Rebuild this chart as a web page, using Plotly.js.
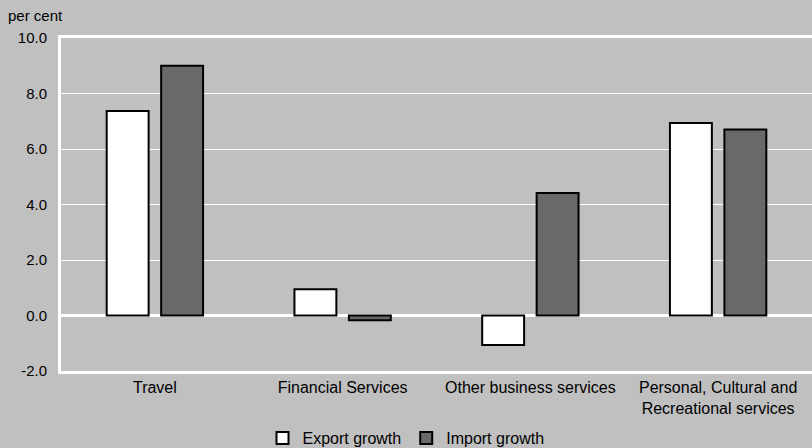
<!DOCTYPE html>
<html><head><meta charset="utf-8">
<script src="https://cdn.plot.ly/plotly-3.0.1.min.js"></script>
<style>html,body{margin:0;padding:0;background:#c0c0c0;}</style>
</head><body>
<div id="chart" style="width:812px;height:448px;"></div>
<script>
const categories = ["Travel", "Financial Services", "Other business services", "Personal, Cultural and<br>Recreational services"];
const exportGrowth = [7.37, 0.95, -1.06, 6.94];
const importGrowth = [9.0, -0.17, 4.41, 6.70];
const seriesNames = ["Export growth", "Import growth"];
const yTicks = [-2, 0, 2, 4, 6, 8, 10];
const yTickText = yTicks.map(v => v.toFixed(1));

const font = {family: "Arial, Liberation Sans, sans-serif", size: 15, color: "#000"};
const bigFont = {family: "Arial, Liberation Sans, sans-serif", size: 16, color: "#000"};
const traces = [
  {type: "bar", name: seriesNames[0], x: categories, y: exportGrowth,
   marker: {color: "#ffffff", line: {color: "#000", width: 2}}},
  {type: "bar", name: seriesNames[1], x: categories, y: importGrowth,
   marker: {color: "#696969", line: {color: "#000", width: 2}}}
];
const layout = {
  width: 812, height: 448,
  margin: {l: 61, r: 0, t: 38, b: 77},
  paper_bgcolor: "#c0c0c0", plot_bgcolor: "#c0c0c0",
  font: font,
  barmode: "group", bargap: 0.42, bargroupgap: 0.23,
  showlegend: true,
  legend: {orientation: "h", x: 0.5, xref: "container", xanchor: "center",
           y: 0.022, yref: "container", yanchor: "middle",
           font: bigFont, bgcolor: "rgba(0,0,0,0)", itemwidth: 30, traceorder: "normal"},
  xaxis: {type: "category", showline: true, linecolor: "#ffffff", linewidth: 3, mirror: true,
          showgrid: false, ticks: "", tickfont: bigFont, automargin: false},
  yaxis: {range: [-2, 10], tickvals: yTicks, ticktext: yTickText, showgrid: true,
          gridcolor: "#ffffff", gridwidth: 1, zeroline: true, zerolinecolor: "#ffffff",
          zerolinewidth: 3, showline: true, linecolor: "#ffffff", linewidth: 3,
          ticks: "", tickfont: font, automargin: false, ticklabelstandoff: 8},
  annotations: [{text: "per cent", xref: "paper", yref: "paper", x: -0.073, y: 1.069,
                 xanchor: "left", yanchor: "middle", showarrow: false, font: font}]
};
Plotly.newPlot("chart", traces, layout, {displayModeBar: false});
</script>
</body></html>
